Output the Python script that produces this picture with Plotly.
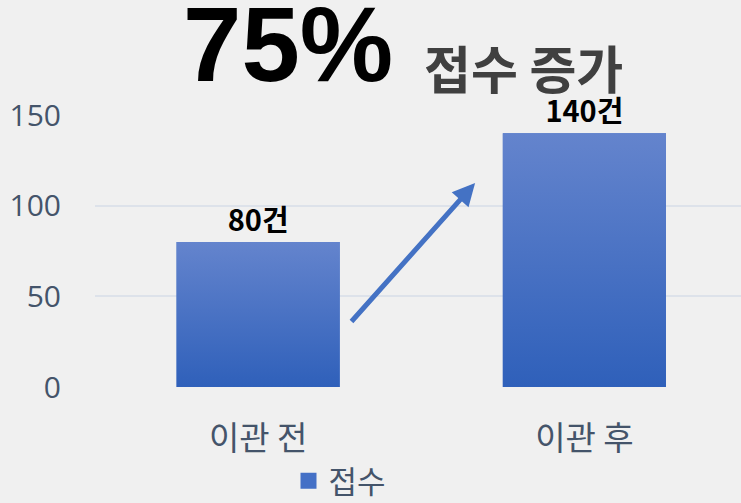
import plotly.graph_objects as go

categories = ["이관 전", "이관 후"]
values = [80, 140]
value_labels = ["80건", "140건"]
series_name = "접수"
y_ticks = [0, 50, 100, 150]
headline = "75%"
subhead = "접수 증가"

BAR_W = 0.5
TOP_C = "#6484cd"
BOT_C = "#2f60ba"
MID_C = "#4470c6"

fig = go.Figure()

xs = list(range(len(categories)))
fig.add_trace(go.Bar(
    x=xs, y=values, name=series_name, width=BAR_W,
    marker=dict(color=MID_C, line=dict(width=0)),
    text=value_labels, textposition="outside", cliponaxis=False,
    textfont=dict(family="Noto Sans CJK KR", size=29, color="#000000", weight="bold"),
    showlegend=False,
))

for i, v in zip(xs, values):
    fig.add_trace(go.Scatter(
        x=[i - BAR_W / 2, i + BAR_W / 2, i + BAR_W / 2, i - BAR_W / 2, i - BAR_W / 2],
        y=[0, 0, v, v, 0],
        mode="lines", fill="toself", line=dict(width=0),
        fillgradient=dict(type="vertical", colorscale=[[0, BOT_C], [1, TOP_C]]),
        hoverinfo="skip", showlegend=False,
    ))

# legend entry with a larger square swatch
fig.add_trace(go.Scatter(
    x=[None], y=[None], mode="markers", name=series_name,
    marker=dict(symbol="square", size=18, color=MID_C), showlegend=True,
))

# arrow (from, to) in data coordinates
arrow_from = (0.282, 35.3)
arrow_to = (0.665, 112.5)
fig.add_annotation(
    x=arrow_to[0], y=arrow_to[1], ax=arrow_from[0], ay=arrow_from[1],
    xref="x", yref="y", axref="x", ayref="y",
    showarrow=True, arrowhead=2, arrowsize=0.9, arrowwidth=5, arrowcolor="#4472c4", text="",
)
fig.add_annotation(
    text="<b>" + headline + "</b>", x=(181 - 95) / 646, y=(387 - 82) / 272,
    xref="paper", yref="paper", showarrow=False,
    font=dict(family="Liberation Sans", size=105, color="#000000"),
    xanchor="left", yanchor="bottom", yshift=-23,
)
fig.add_annotation(
    text="<b>" + subhead + "</b>", x=(422 - 95) / 646, y=(387 - 67) / 272,
    xref="paper", yref="paper", showarrow=False,
    font=dict(family="Noto Sans CJK KR", size=51, color="#404040"),
    xanchor="left", yanchor="middle",
)

fig.update_layout(
    width=741, height=503,
    margin=dict(l=95, r=0, t=115, b=116, autoexpand=False),
    paper_bgcolor="#f0f0f0", plot_bgcolor="#f0f0f0",
    showlegend=True,
    legend=dict(orientation="h", x=340 / 741, y=(503 - 481) / 503, xref="container", yref="container",
                xanchor="center", yanchor="middle",
                font=dict(family="Noto Sans CJK KR", size=31, color="#44546a"),
                bgcolor="rgba(0,0,0,0)", itemwidth=30),
    xaxis=dict(range=[-0.5, 1.48], tickvals=xs, ticktext=categories, showgrid=False,
               zeroline=False, showline=False, ticks="", automargin=False,
               tickfont=dict(family="Noto Sans CJK KR", size=33, color="#44546a"),
               ticklabelstandoff=29, fixedrange=True),
    yaxis=dict(range=[0, 150], tickvals=y_ticks, showgrid=True, gridcolor="#dde2ea",
               gridwidth=2, zeroline=False, showline=False, ticks="", automargin=False,
               tickfont=dict(family="Open Sans", size=30, color="#44546a"),
               ticklabelstandoff=33, fixedrange=True),
)

fig.write_html(
    "out.html",
    config={"displayModeBar": False},
    post_script="document.body.style.margin='0';document.body.style.background='#f0f0f0';document.documentElement.style.overflow='hidden';",
)
